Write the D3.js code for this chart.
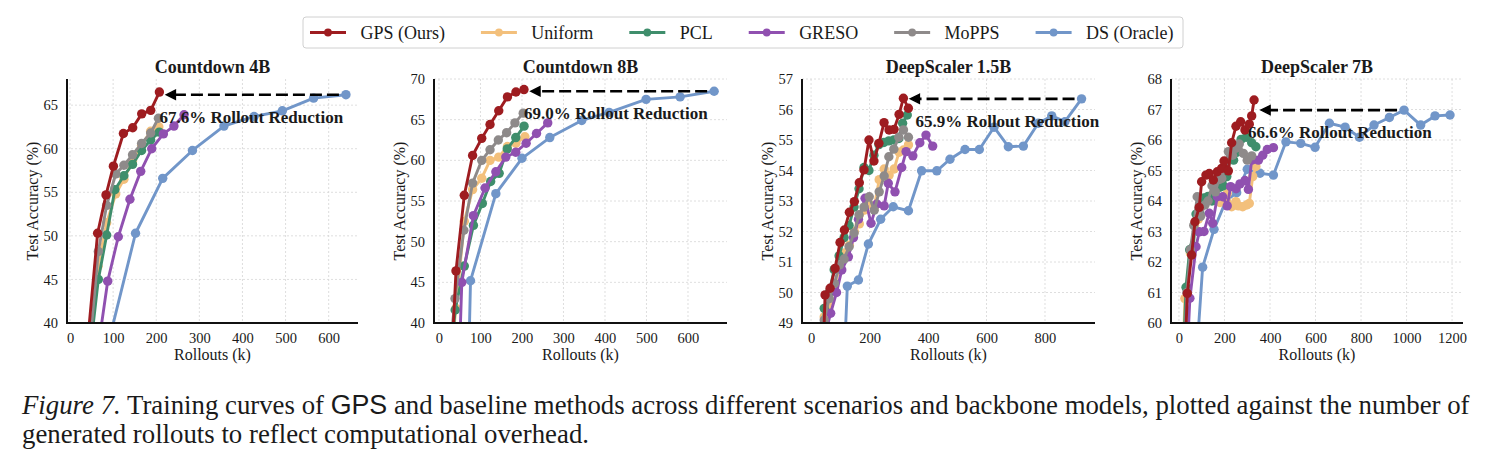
<!DOCTYPE html>
<html>
<head>
<meta charset="UTF-8">
<title>GPS training curves</title>
<script src="https://cdn.jsdelivr.net/npm/d3@7"></script>
<style>
  body { margin: 0; background: #fff; }
  svg text { font-family: "Liberation Serif", "Times New Roman", serif; fill: #1a1a1a; }
</style>
</head>
<body>
<script>
// series names + colours (legend order)
var seriesNames  = ["GPS (Ours)", "Uniform", "PCL", "GRESO", "MoPPS", "DS (Oracle)"];
var seriesColors = ["#9e1c20", "#f3c07c", "#3f8e6c", "#9050b0", "#8e8a8a", "#7196c9"];

var titles = ["Countdown 4B", "Countdown 8B", "DeepScaler 1.5B", "DeepScaler 7B"];
var reductionLabels = ["67.6% Rollout Reduction", "69.0% Rollout Reduction", "65.9% Rollout Reduction", "66.6% Rollout Reduction"];

var xTicks1 = [0, 100, 200, 300, 400, 500, 600];
var xTicks3 = [0, 200, 400, 600, 800];
var xTicks4 = [0, 200, 400, 600, 800, 1000, 1200];
var yTicks1 = [40, 45, 50, 55, 60, 65];
var yTicks2 = [40, 45, 50, 55, 60, 65, 70];
var yTicks3 = [49, 50, 51, 52, 53, 54, 55, 56, 57];
var yTicks4 = [60, 61, 62, 63, 64, 65, 66, 67, 68];

// ---- Countdown 4B  [rollouts (k), accuracy]
var cd4_gps   = [[43,39.0],[64,50.3],[83.5,54.7],[100.6,58.0],[123.8,61.75],[145.4,62.4],[166.3,64.0],[187.2,64.4],[207.3,66.5]];
var cd4_uni   = [[45,36.5],[65,46.5],[85,51.5],[106,54.8],[125,56.5],[145,58.6],[166,60.4],[187,62.0],[206,62.5]];
var cd4_pcl   = [[45,36],[65.7,45.0],[85,50.1],[104,55.3],[125,56.9],[145,58.2],[166,59.8],[187,61.0],[207,61.9]];
var cd4_greso = [[62,36],[87.4,44.8],[112,49.9],[139,54.2],[164,57.4],[189.5,60.0],[216.5,61.7],[241,62.6],[264.5,63.9]];
var cd4_mopps = [[45,37],[65.7,48.2],[85,53.5],[106,57.1],[125,58.1],[145,59.3],[166,60.6],[187,61.8],[205,63.5]];
var cd4_ds    = [[89,37.7],[152,50.3],[215,56.6],[284,59.8],[357,62.6],[427,63.7],[492.5,64.35],[565,65.8],[640,66.2]];

// ---- Countdown 8B
var cd8_gps   = [[30,35],[41,46.4],[61,55.7],[81,60.6],[103,62.7],[123,64.4],[144,66.1],[165,67.8],[185.5,68.4],[204.8,68.7]];
var cd8_uni   = [[22,33],[41,41.8],[61,52.5],[81,56.4],[103,57.8],[123,60.0],[144,60.4],[165,61.7],[185.5,62.1],[207,62.9]];
var cd8_pcl   = [[22,32],[39,41.6],[61,47],[83,52],[104.5,54.7],[124.5,57.4],[145,58.4],[164.5,61.4],[185,62.8],[205,64.2]];
var cd8_greso = [[48,34],[55,45.0],[83,53.2],[111,56.6],[137,58.6],[161,60.4],[185,61.0],[210,62.1],[235,63.3],[262,64.6]];
var cd8_mopps = [[20,33],[38.6,43.0],[60,51.4],[81,57.2],[103,60.0],[123,61.3],[143,62.5],[163,63.4],[183,64.6],[203,65.8]];
var cd8_ds    = [[70,32],[76,45.2],[137,55.9],[200,60.25],[267,62.8],[344,64.9],[410,65.9],[499,67.5],[581,67.8],[663,68.5]];

// ---- DeepScaler 1.5B
var ds15_gps   = [[35,46],[47.9,49.92],[65,50.14],[82,50.79],[99,51.64],[114,52.05],[131,52.63],[148,52.98],[165,53.6],[181,54.02],[198,55.0],[215,54.31],[232,54.89],[249.6,55.57],[266.7,55.33],[283.8,55.35],[301,55.84],[315.7,56.37],[332.8,56.04]];
var ds15_uni   = [[30,46],[45,49.2],[62,49.6],[80,50.2],[97,50.8],[114,51.3],[131,51.55],[148,52.0],[165,52.25],[182,52.7],[199,52.9],[216,52.8],[233,53.7],[250,54.05],[267,53.85],[284,54.05],[301,54.6],[316,54.67],[333,54.84]];
var ds15_pcl   = [[30,46],[45,49.48],[62,50.0],[79,50.75],[96,51.2],[113,51.8],[130,52.2],[147,52.8],[164,53.4],[181,54.1],[198,54.0],[215,54.5],[232,54.85],[249,54.92],[266,54.97],[283,55.0],[300,55.05],[313,55.55],[329,55.82]];
var ds15_greso = [[40,46],[50,48.7],[67,49.32],[87,50.0],[105,50.74],[127.6,51.17],[145,51.8],[162,52.4],[184.6,53.09],[205,52.27],[225,52.9],[250,52.84],[264,53.58],[287,53.3],[310,54.1],[325,54.62],[348,54.48],[372,54.91],[393,55.16],[416,54.8]];
var ds15_mopps = [[30,46],[45,49.1],[62,49.8],[80,50.3],[97,50.9],[113,51.1],[130,51.5],[147,51.95],[164,52.55],[181,52.8],[199,53.14],[216,52.7],[233,53.3],[250,53.82],[266,54.45],[283,54.7],[300,55.09],[316,55.33],[333,55.09]];
var ds15_ds    = [[110,47],[124,50.21],[162,50.41],[196,51.59],[238,52.4],[281,52.81],[333,52.68],[378,53.99],[430,53.99],[475,54.37],[526.5,54.69],[575.5,54.69],[625.6,55.42],[674.6,54.78],[726,54.8],[777,55.55],[823,55.79],[868,55.6],[925,56.35]];

// ---- DeepScaler 7B
var ds7_gps   = [[20,57.5],[36.6,60.97],[55.7,62.23],[70.3,63.32],[89,63.79],[99.5,64.63],[118.6,64.85],[133,64.9],[151,64.69],[168.5,64.96],[187.5,65.07],[198,65.31],[217,64.99],[231.5,65.91],[250.5,66.45],[271,66.6],[290,66.33],[309,66.52],[319.5,66.79],[330,67.31]];
var ds7_uni   = [[15,58],[26,60.8],[50,62.3],[68,63.2],[85,63.4],[100,63.9],[115,64.0],[129,64.14],[147,64.2],[163,64.0],[180,63.95],[195,63.98],[212,64.25],[231.5,63.81],[250,63.98],[261,63.84],[280,63.81],[297.5,63.87],[309,63.92],[324,64.8],[338,65.13]];
var ds7_pcl   = [[15,58],[31,61.17],[47,62.4],[63,62.5],[75,63.57],[92,63.6],[110,64.1],[128,64.15],[145,64.0],[163,64.5],[180,64.45],[195,64.5],[210,64.8],[225,65.4],[240,65.34],[255,65.6],[273,66.02],[295,66.09],[319.5,65.91],[338,65.78]];
var ds7_greso = [[30,58],[48,60.81],[75,62.5],[89,62.99],[110,63.0],[133,63.6],[148,63.27],[168.5,64.14],[192,64.14],[212,63.84],[227,64.47],[251,64.4],[268,64.56],[290,64.67],[305,64.38],[319.5,65.34],[349,65.34],[368,65.5],[388,65.69],[415,65.75]];
var ds7_mopps = [[20,58.5],[35,61.0],[50,62.4],[65,63.2],[80,64.14],[95,63.5],[114,63.87],[128,64.0],[145,64.5],[160,64.3],[175,64.7],[188,64.74],[205,65.2],[217,65.62],[235,65.5],[251,65.73],[265,65.87],[283,65.56],[300,65.34],[319.5,65.48]];
var ds7_ds    = [[60,57],[104,61.83],[154,63.07],[206.5,64.01],[253.6,64.27],[300,65.04],[356,64.91],[415,64.85],[470,65.94],[535,65.89],[598,65.76],[661,66.55],[730,66.42],[793,66.09],[857,66.49],[924.6,66.74],[989,66.98],[1062,66.49],[1125,66.79],[1191,66.82]];

// arrow: [DS rollouts, GPS rollouts, accuracy level]
var arrows = [[640, 207.3, 66.2], [663, 204.8, 68.5], [925, 315.7, 56.35], [989, 330, 66.98]];

var width = 1491, height = 466;
var svg = d3.select("body").append("svg")
    .attr("width", width)
    .attr("height", height);

// layout of the four plots
var plotTop = 79, plotBottom = 323;
var panels = [
  {left: 67,   right: 358,  xd: [-7, 668],  yd: [40, 68], xt: xTicks1, yt: yTicks1, series: [cd4_gps, cd4_uni, cd4_pcl, cd4_greso, cd4_mopps, cd4_ds], textDx: 0},
  {left: 434,  right: 727,  xd: [-12, 694], yd: [40, 70], xt: xTicks1, yt: yTicks2, series: [cd8_gps, cd8_uni, cd8_pcl, cd8_greso, cd8_mopps, cd8_ds], textDx: 0},
  {left: 802,  right: 1095, xd: [-31, 971], yd: [49, 57], xt: xTicks3, yt: yTicks3, series: [ds15_gps, ds15_uni, ds15_pcl, ds15_greso, ds15_mopps, ds15_ds], textDx: 12},
  {left: 1171, right: 1463, xd: [-35, 1248], yd: [60, 68], xt: xTicks4, yt: yTicks4, series: [ds7_gps, ds7_uni, ds7_pcl, ds7_greso, ds7_mopps, ds7_ds], textDx: -6}
];
var drawOrder = [5, 1, 2, 3, 4, 0];

var defs = svg.append("defs");

panels.forEach(function(p, i) {
  var x = d3.scaleLinear().domain(p.xd).range([p.left, p.right]);
  var y = d3.scaleLinear().domain(p.yd).range([plotBottom, plotTop]);
  var g = svg.append("g");

  defs.append("clipPath").attr("id", "clip" + i)
    .append("rect")
    .attr("x", p.left).attr("y", plotTop - 6)
    .attr("width", p.right - p.left + 6).attr("height", plotBottom - plotTop + 6);

  // grid
  g.selectAll(".gx").data(p.xt).enter().append("line")
    .attr("x1", d => x(d)).attr("x2", d => x(d))
    .attr("y1", plotTop).attr("y2", plotBottom)
    .attr("stroke", "#d6d6d6").attr("stroke-width", 0.8).attr("stroke-dasharray", "2,2");
  g.selectAll(".gy").data(p.yt).enter().append("line")
    .attr("x1", p.left).attr("x2", p.right)
    .attr("y1", d => y(d)).attr("y2", d => y(d))
    .attr("stroke", "#d6d6d6").attr("stroke-width", 0.8).attr("stroke-dasharray", "2,2");

  // axes (labels only, spines drawn separately)
  var ax = g.append("g").attr("transform", "translate(0," + plotBottom + ")")
    .call(d3.axisBottom(x).tickValues(p.xt).tickSize(0).tickPadding(10).tickFormat(d3.format("d")));
  var ay = g.append("g").attr("transform", "translate(" + p.left + ",0)")
    .call(d3.axisLeft(y).tickValues(p.yt).tickSize(0).tickPadding(9).tickFormat(d3.format("d")));
  [ax, ay].forEach(function(a) {
    a.select(".domain").remove();
    a.selectAll("text").attr("font-size", 14.5).attr("font-family", "Liberation Serif, serif").attr("fill", "#222");
  });

  // curves
  var plot = g.append("g").attr("clip-path", "url(#clip" + i + ")");
  var line = d3.line().x(d => x(d[0])).y(d => y(d[1]));
  drawOrder.forEach(function(s) {
    var data = p.series[s];
    var sg = plot.append("g");
    sg.append("path").datum(data)
      .attr("d", line)
      .attr("fill", "none")
      .attr("stroke", seriesColors[s])
      .attr("stroke-width", 2.9)
      .attr("stroke-linejoin", "round");
    sg.selectAll("circle").data(data).enter().append("circle")
      .attr("cx", d => x(d[0])).attr("cy", d => y(d[1]))
      .attr("r", 4.7)
      .attr("fill", seriesColors[s]);
  });

  // spines
  g.append("line").attr("x1", p.left).attr("x2", p.left).attr("y1", plotTop).attr("y2", plotBottom + 1)
    .attr("stroke", "#111").attr("stroke-width", 2);
  g.append("line").attr("x1", p.left - 1).attr("x2", p.right).attr("y1", plotBottom).attr("y2", plotBottom)
    .attr("stroke", "#111").attr("stroke-width", 2);

  // reduction arrow
  var a = arrows[i];
  var ya = y(a[2]);
  var tip = x(a[1]) + 7;
  g.append("line")
    .attr("x1", x(a[0]) - 7).attr("x2", tip + 6)
    .attr("y1", ya).attr("y2", ya)
    .attr("stroke", "#000").attr("stroke-width", 2.6)
    .attr("stroke-dasharray", "12,5");
  g.append("path")
    .attr("d", "M" + (tip + 9) + "," + (ya - 4.5) + " L" + tip + "," + ya + " L" + (tip + 9) + "," + (ya + 4.5) + " Z")
    .attr("fill", "#000").attr("stroke", "#000").attr("stroke-width", 1.5).attr("stroke-linejoin", "miter");
  g.append("text")
    .attr("x", x(a[1]) + p.textDx).attr("y", ya + 28)
    .attr("font-size", 17).attr("font-weight", "bold").attr("fill", "#000")
    .text(reductionLabels[i]);

  // titles and axis labels
  g.append("text")
    .attr("x", (p.left + p.right) / 2).attr("y", 73)
    .attr("text-anchor", "middle")
    .attr("font-size", 18).attr("font-weight", "bold")
    .text(titles[i]);
  g.append("text")
    .attr("x", (p.left + p.right) / 2).attr("y", 360)
    .attr("text-anchor", "middle")
    .attr("font-size", 16)
    .text("Rollouts (k)");
  g.append("text")
    .attr("transform", "translate(" + (p.left - 29) + "," + ((plotTop + plotBottom) / 2) + ") rotate(-90)")
    .attr("text-anchor", "middle")
    .attr("font-size", 16)
    .text("Test Accuracy (%)");
});

// legend
var leg = svg.append("g");
leg.append("rect")
  .attr("x", 303).attr("y", 17).attr("width", 880).attr("height", 31)
  .attr("rx", 3)
  .attr("fill", "#fff").attr("stroke", "#d0d0d0").attr("stroke-width", 1);
var lx = 310;
seriesNames.forEach(function(name, s) {
  var e = leg.append("g");
  e.append("line")
    .attr("x1", lx).attr("x2", lx + 36).attr("y1", 32.5).attr("y2", 32.5)
    .attr("stroke", seriesColors[s]).attr("stroke-width", 2.8);
  e.append("circle")
    .attr("cx", lx + 18).attr("cy", 32.5).attr("r", 3.9)
    .attr("fill", seriesColors[s]);
  var t = e.append("text")
    .attr("x", lx + 50.4).attr("y", 38.5)
    .attr("font-size", 18)
    .text(name);
  lx += 50.4 + t.node().getComputedTextLength() + 36;
});

// caption
var cap1 = svg.append("text").attr("x", 22).attr("y", 414).attr("font-size", 26.8);
cap1.append("tspan").attr("font-style", "italic").text("Figure 7.");
cap1.append("tspan").text(" Training curves of ");
cap1.append("tspan").attr("font-family", "Liberation Sans, Arial, sans-serif").text("GPS");
cap1.append("tspan").text(" and baseline methods across different scenarios and backbone models, plotted against the number of");
svg.append("text").attr("x", 22).attr("y", 443).attr("font-size", 26.8)
  .text("generated rollouts to reflect computational overhead.");
</script>
</body>
</html>
